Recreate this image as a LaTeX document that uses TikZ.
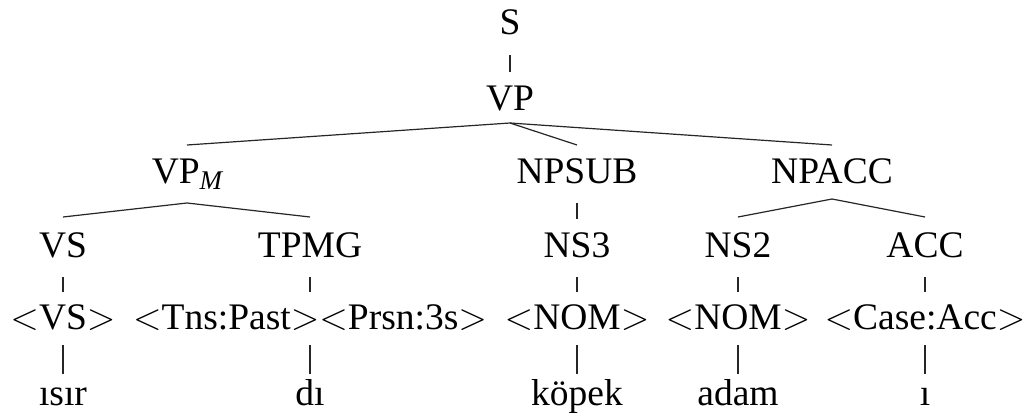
\RequirePackage{fix-cm}
\documentclass[tikz,border=0pt]{standalone}
\usepackage{fontspec}
\setmainfont{Liberation Serif}
\begin{document}
\begin{tikzpicture}[
  x=1pt, y=1pt,
  lbl/.style={anchor=base, inner sep=0pt, font=\fontsize{37.5}{42}\selectfont},
  edge/.style={line width=1.2pt, draw=black!85}
]
\useasboundingbox (0,0) rectangle (1032,-414);
\newcommand{\lt}{$<$}
\newcommand{\gt}{$>$}

% categories
\node[lbl] (S)     at (510,-35)  {S};
\node[lbl] (VP)    at (510,-111) {VP};
\node[lbl] (VPM)   at (187,-183) {VP\raisebox{-6pt}{\fontsize{27}{30}\selectfont\itshape M}};
\node[lbl] (NPSUB) at (577,-183) {NPSUB};
\node[lbl] (NPACC) at (832,-183) {NPACC};
\node[lbl] (VS)    at (63,-257)  {VS};
\node[lbl] (TPMG)  at (310,-257) {TPMG};
\node[lbl] (NS3)   at (577,-257) {NS3};
\node[lbl] (NS2)   at (738,-257) {NS2};
\node[lbl] (ACC)   at (925,-257) {ACC};

% features
\node[lbl] (fVS)   at (63,-329)  {\lt VS\gt};
\node[lbl] (fTP)   at (310,-329) {\lt Tns:Past\gt\lt Prsn:3s\gt};
\node[lbl] (fNS3)  at (577,-329) {\lt NOM\gt};
\node[lbl] (fNS2)  at (738,-329) {\lt NOM\gt};
\node[lbl] (fACC)  at (925,-329) {\lt Case:Acc\gt};

% words
\node[lbl] (wVS)   at (63,-405)  {ısır};
\node[lbl] (wTP)   at (310,-405) {dı};
\node[lbl] (wNS3)  at (577,-405) {köpek};
\node[lbl] (wNS2)  at (738,-405) {adam};
\node[lbl] (wACC)  at (925,-405) {ı};

% unary branches
\draw[edge] ([yshift=-20pt]S.base) -- ([yshift=39pt]VP.base);
\draw[edge] ([yshift=-20pt]NPSUB.base) -- ([yshift=38pt]NS3.base);
\foreach \a/\b in {VS/fVS, TPMG/fTP, NS3/fNS3, NS2/fNS2, ACC/fACC}
  \draw[edge] ([yshift=-20pt]\a.base) -- ([yshift=37pt]\b.base);
\foreach \a/\b in {fVS/wVS, fTP/wTP, fNS3/wNS3, fNS2/wNS2, fACC/wACC}
  \draw[edge] ([yshift=-16pt]\a.base) -- ([yshift=31pt]\b.base);

% n-ary branches
\draw[edge] ([yshift=38pt]VPM.base) -- ([yshift=-12pt]VP.base) -- ([yshift=38pt]NPACC.base);
\draw[edge] ([yshift=-12pt]VP.base) -- ([yshift=38pt]NPSUB.base);
\draw[edge] ([yshift=40pt]VS.base) -- ([yshift=-20pt]VPM.base) -- ([yshift=40pt]TPMG.base);
\draw[edge] ([yshift=40pt]NS2.base) -- ([yshift=-16pt]NPACC.base) -- ([yshift=40pt]ACC.base);
\end{tikzpicture}
\end{document}
